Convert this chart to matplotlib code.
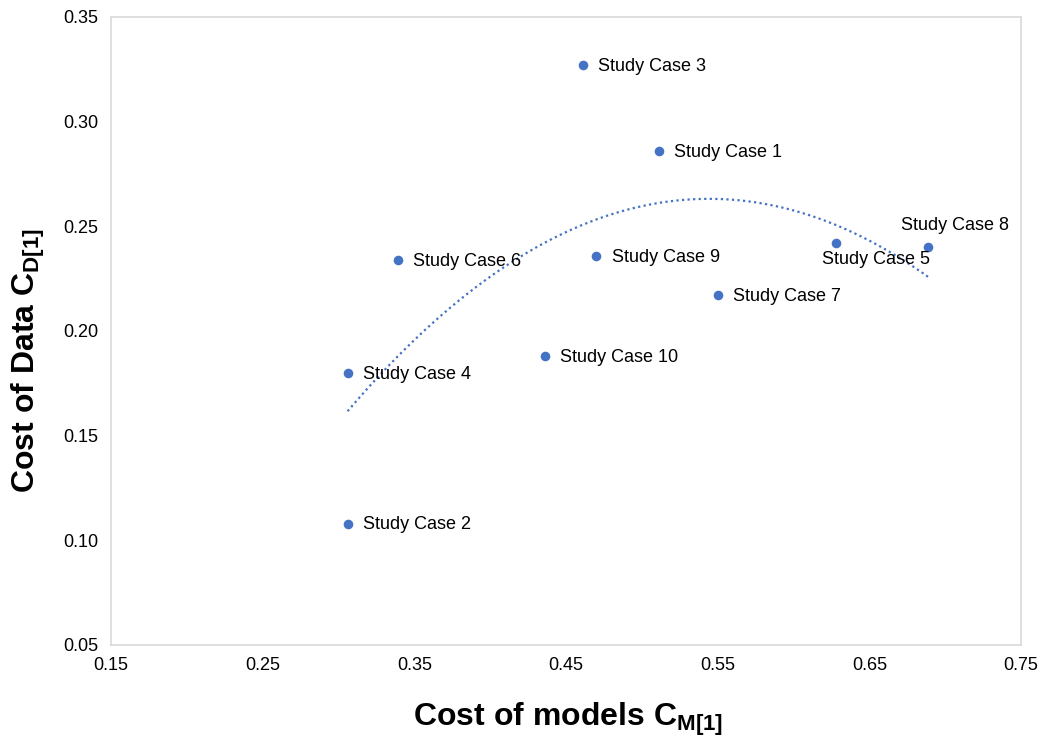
import numpy as np
import matplotlib
matplotlib.use("Agg")
import matplotlib.pyplot as plt

plt.rcParams['font.family'] = ['Liberation Sans', 'DejaVu Sans']
plt.rcParams['mathtext.fontset'] = 'custom'
plt.rcParams['mathtext.rm'] = 'Liberation Sans'
plt.rcParams['mathtext.it'] = 'Liberation Sans:italic'
plt.rcParams['mathtext.bf'] = 'Liberation Sans:bold'

labels = ["Study Case 1", "Study Case 2", "Study Case 3", "Study Case 4", "Study Case 5",
          "Study Case 6", "Study Case 7", "Study Case 8", "Study Case 9", "Study Case 10"]
cost_models = [0.511, 0.306, 0.461, 0.306, 0.628, 0.339, 0.550, 0.689, 0.470, 0.436]
cost_data = [0.286, 0.108, 0.327, 0.180, 0.242, 0.234, 0.217, 0.240, 0.236, 0.188]

xticks = [0.15, 0.25, 0.35, 0.45, 0.55, 0.65, 0.75]
yticks = [0.05, 0.10, 0.15, 0.20, 0.25, 0.30, 0.35]

color = '#4472C4'
fig = plt.figure(figsize=(10.43, 7.39), dpi=100)
ax = fig.add_axes([0.1064, 0.1272, 0.8725, 0.8498])

ax.scatter(cost_models, cost_data, s=48, color=color, zorder=3, linewidths=0)

# polynomial (order 2) trendline
coef = np.polyfit(cost_models, cost_data, 2)
xs = np.linspace(min(cost_models), max(cost_models), 200)
ax.plot(xs, np.polyval(coef, xs), linestyle=(0, (1, 1.5)), color=color, lw=1.6, zorder=2)

offsets = {
    "Study Case 5": (-10, -12, 'left', 'center'),
    "Study Case 8": (-20, 16, 'left', 'center'),
}
for lab, x, y in zip(labels, cost_models, cost_data):
    dx, dy, ha, va = offsets.get(lab, (11, -1, 'left', 'center'))
    ax.annotate(lab, (x, y), xytext=(dx, dy), textcoords='offset points',
                ha=ha, va=va, fontsize=13, color='#000000')

ax.set_xlim(0.15, 0.75)
ax.set_ylim(0.05, 0.35)
ax.set_xticks(xticks)
ax.set_yticks(yticks)
ax.set_xticklabels([f"{v:.2f}" for v in xticks])
ax.set_yticklabels([f"{v:.2f}" for v in yticks])
ax.tick_params(axis='x', length=0, labelsize=13, colors='#000000', pad=9)
ax.tick_params(axis='y', length=0, labelsize=13, colors='#000000', pad=9)
for sp in ax.spines.values():
    sp.set_color('#d9d9d9')
    sp.set_linewidth(1.2)

fig.text(568 / 1043, 1 - 726 / 739, r"Cost of models C$_{\mathbf{M[1]}}$",
         fontsize=23, fontweight='bold', ha='center', va='baseline')
fig.text(35 / 1043, 1 - 360 / 739, r"Cost of Data C$_{\mathbf{D[1]}}$",
         fontsize=23, fontweight='bold', ha='center', va='baseline', rotation=90,
         rotation_mode='anchor')

fig.savefig("out.png", dpi=100)
